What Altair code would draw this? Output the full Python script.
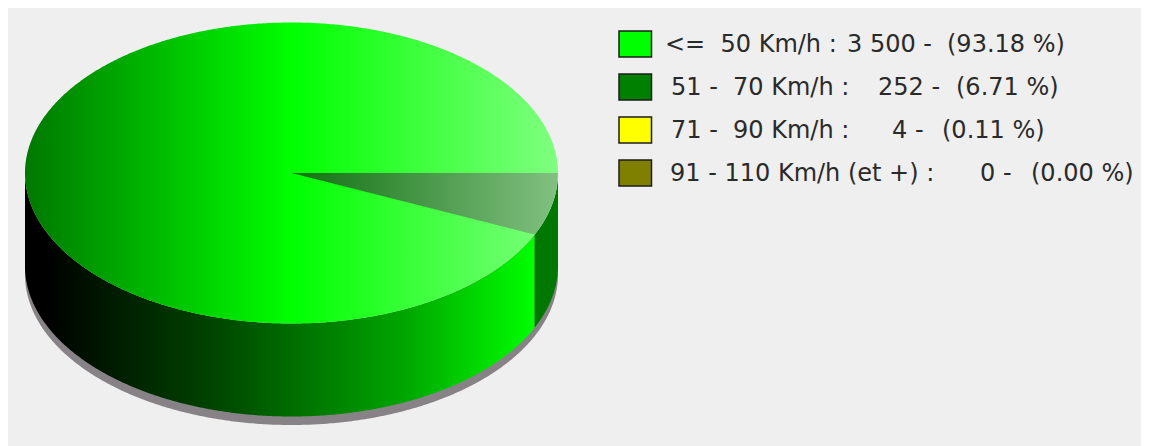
import numpy as np
import pandas as pd
import altair as alt

NB = "\u00a0"
categories = [f"<={NB}{NB}50 Km/h :", f"51 -{NB}{NB}70 Km/h :", f"71 -{NB}{NB}90 Km/h :", "91 - 110 Km/h (et +) :"]
counts = [3500, 252, 4, 0]
count_labels = ["3 500 -", "252 -", "4 -", "0 -"]
share_labels = ["(93.18 %)", "(6.71 %)", "(0.11 %)", "(0.00 %)"]
swatches = ["#00ff00", "#008000", "#ffff00", "#808000"]

# layout (pixels, chart coordinates)
W, H = 1133, 438
CX, CY, RX, RY = 283.5, 165.0, 266.5, 150.5
DEPTH = 93 / RY
SHADOW = 8.5 / RY
x_scale = alt.Scale(domain=[-CX / RX, (W - CX) / RX], range=[0, W], nice=False, zero=False)
y_scale = alt.Scale(domain=[(H - CY) / RY, -CY / RY], range=[H, 0], nice=False, zero=False)

# pie geometry derived from the values
total = sum(counts)
wedge_end = 2 * np.pi * counts[1] / total
xs = np.cos(np.linspace(np.pi, 0, 361))
ell = np.sqrt(np.clip(1 - xs ** 2, 0, 1))
tx, ty = np.cos(wedge_end), np.sin(wedge_end)


def area(df, stops=None, color=None, **kw):
    fill = color if color else alt.Gradient(
        gradient="linear", x1=0, x2=1, y1=0, y2=0,
        stops=[alt.GradientStop(offset=o, color=c) for o, c in stops])
    return alt.Chart(df).mark_area(color=fill, orient="vertical", interpolate="linear", **kw).encode(
        x=alt.X("x:Q", scale=x_scale, axis=None),
        y=alt.Y("y:Q", scale=y_scale, axis=None),
        y2="y2:Q",
    )


shadow = area(pd.DataFrame({"x": xs, "y": ell, "y2": ell + DEPTH + SHADOW}), color="#868286")

left = xs <= tx
xl = np.append(xs[left], tx)
main_side = area(
    pd.DataFrame({"x": xl, "y": np.sqrt(1 - xl ** 2), "y2": np.sqrt(1 - xl ** 2) + DEPTH}),
    stops=[(0, "#000000"), (0.04, "#000000"), (0.35, "#004000"), (0.75, "#00a800"), (1, "#00ff00")],
)
xr = np.insert(xs[~left], 0, tx)
wedge_side = area(
    pd.DataFrame({"x": xr, "y": np.sqrt(np.clip(1 - xr ** 2, 0, 1)), "y2": np.sqrt(np.clip(1 - xr ** 2, 0, 1)) + DEPTH}),
    color="#007800",
)
top = area(
    pd.DataFrame({"x": xs, "y": -ell, "y2": ell}),
    stops=[(0, "#007800"), (0.5, "#00ff00"), (1, "#80ff80")],
)

xw = np.linspace(0, 1, 201)
lower = np.where(xw <= tx, xw * ty / tx, np.sqrt(np.clip(1 - xw ** 2, 0, 1)))
wedge_top = area(
    pd.DataFrame({"x": xw, "y": np.zeros_like(xw), "y2": lower}),
    stops=[(0, "#107010"), (1, "#82c082")],
)

# legend
row_scale = alt.Scale(domain=categories, range=[14.5, 186.5], paddingInner=0.395, paddingOuter=0.1975)
legend_df = pd.DataFrame({
    "category": categories, "swatch": swatches, "count": count_labels, "share": share_labels,
    "x1": [657, 663, 663, 662], "x2": [839, 870, 884, 972], "x3": [939, 948, 934, 1023],
})
row = alt.Y("category:N", sort=None, scale=row_scale, axis=None)
swatch_marks = alt.Chart(legend_df).mark_rect(stroke="#1c1c1c", strokeWidth=1.5).encode(
    x=alt.value(611), x2=alt.value(643.5), y=row,
    color=alt.Color("swatch:N", scale=None),
)


def label(field, xf):
    return alt.Chart(legend_df).mark_text(
        align="left", baseline="middle", font="DejaVu Sans", fontSize=24, dy=1, color="#2a2a2a"
    ).encode(x=alt.X(f"{xf}:Q", scale=None, axis=None), y=row, text=f"{field}:N")


pie = alt.layer(shadow, main_side, wedge_side, top, wedge_top)
legend = alt.layer(swatch_marks, label("category", "x1"), label("count", "x2"), label("share", "x3"))

chart = alt.layer(pie, legend).resolve_scale(x="independent", y="independent").properties(
    width=W, height=H, background="#efefef", padding=0,
).configure_view(stroke=None)

chart.save("out.html", embed_options={"renderer": "svg", "actions": False})
